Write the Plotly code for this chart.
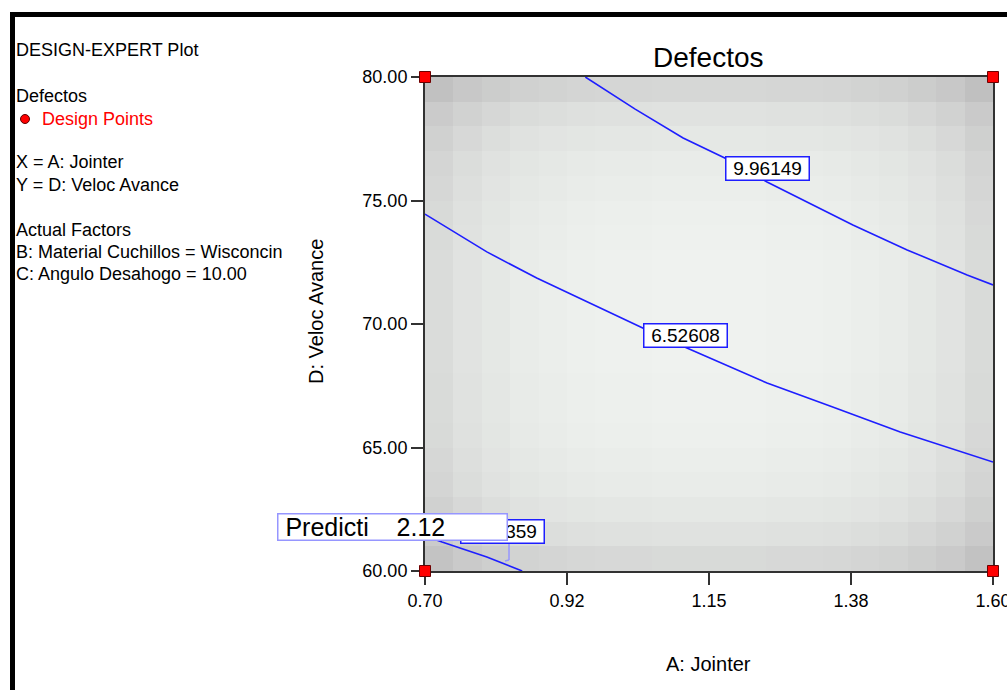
import numpy as np
import plotly.graph_objects as go

# ---------------- data ----------------
x_ticks = [0.70, 0.925, 1.15, 1.375, 1.60]
x_ticklabels = ["0.70", "0.92", "1.15", "1.38", "1.60"]
y_ticks = [60, 65, 70, 75, 80]
y_ticklabels = ["60.00", "65.00", "70.00", "75.00", "80.00"]

design_x = [0.70, 0.70, 1.60, 1.60]
design_y = [60.0, 80.0, 60.0, 80.0]

# contour 9.96149
c1_x = [0.954, 1.033, 1.109, 1.175, 1.242, 1.378, 1.464, 1.559, 1.600]
c1_y = [80.00, 78.70, 77.53, 76.72, 75.75, 74.01, 73.00, 71.98, 71.58]
# contour 6.52608
c2_x = [0.700, 0.798, 0.877, 0.957, 1.045, 1.115, 1.136, 1.242, 1.346, 1.453, 1.600]
c2_y = [74.45, 72.92, 71.86, 70.89, 69.84, 69.03, 68.79, 67.61, 66.64, 65.63, 64.41]
# contour ...359 (lower left)
c3_x = [0.700, 0.727, 0.798, 0.854]
c3_y = [61.42, 61.17, 60.57, 60.00]

contour_labels = ["9.96149", "6.52608", "3.09359"]
label_x = [1.2419, 1.1128, 0.822]
label_y = [76.28, 69.55, 61.60]

# background shading (gray level), rows from y=60 (bottom) to y=80 (top)
shade = [
    [195, 202, 207, 211, 213, 215, 216, 216, 217, 217, 217, 217, 216, 216, 215, 213, 211, 207, 202, 194],
    [203, 210, 215, 219, 221, 223, 224, 224, 225, 225, 225, 225, 224, 224, 223, 221, 219, 215, 210, 202],
    [209, 216, 221, 225, 227, 229, 230, 230, 231, 231, 231, 231, 230, 230, 229, 227, 225, 221, 216, 208],
    [213, 220, 225, 229, 231, 233, 234, 234, 235, 235, 235, 235, 234, 234, 233, 231, 229, 225, 220, 212],
    [215, 222, 227, 231, 233, 235, 236, 236, 237, 237, 237, 237, 236, 236, 235, 233, 231, 227, 222, 214],
    [217, 224, 229, 233, 235, 237, 238, 238, 239, 239, 239, 239, 238, 238, 237, 235, 233, 229, 224, 216],
    [218, 225, 230, 234, 236, 238, 239, 239, 240, 240, 240, 240, 239, 239, 238, 236, 234, 230, 225, 217],
    [218, 225, 230, 234, 236, 238, 239, 239, 240, 240, 240, 240, 239, 239, 238, 236, 234, 230, 225, 217],
    [219, 226, 231, 235, 237, 239, 240, 240, 241, 241, 241, 241, 240, 240, 239, 237, 235, 231, 226, 218],
    [219, 226, 231, 235, 237, 239, 240, 240, 241, 241, 241, 241, 240, 240, 239, 237, 235, 231, 226, 218],
    [219, 226, 231, 235, 237, 239, 240, 240, 241, 241, 241, 241, 240, 240, 239, 237, 235, 231, 226, 218],
    [219, 226, 231, 235, 237, 239, 240, 240, 241, 241, 241, 241, 240, 240, 239, 237, 235, 231, 226, 218],
    [219, 226, 231, 235, 237, 239, 240, 240, 241, 241, 241, 241, 240, 240, 239, 237, 235, 231, 226, 218],
    [218, 225, 230, 234, 236, 238, 239, 239, 240, 240, 240, 240, 239, 239, 238, 236, 234, 230, 225, 217],
    [217, 224, 229, 233, 235, 237, 238, 238, 239, 239, 239, 239, 238, 238, 237, 235, 233, 229, 224, 216],
    [215, 222, 227, 231, 233, 235, 236, 236, 237, 237, 237, 237, 236, 236, 235, 233, 231, 227, 222, 214],
    [213, 220, 225, 229, 231, 233, 234, 234, 235, 235, 235, 235, 234, 234, 233, 231, 229, 225, 220, 212],
    [209, 216, 221, 225, 227, 229, 230, 230, 231, 231, 231, 231, 230, 230, 229, 227, 225, 221, 216, 208],
    [203, 210, 215, 219, 221, 223, 224, 224, 225, 225, 225, 225, 224, 224, 223, 221, 219, 215, 210, 202],
    [193, 200, 205, 209, 211, 213, 214, 214, 215, 215, 215, 215, 214, 214, 213, 211, 209, 205, 200, 192],
]

side_text = [
    ("DESIGN-EXPERT Plot", 50, "black"),
    ("Defectos", 96, "black"),
    ("Design Points", 119, "red"),
    ("X = A: Jointer", 162, "black"),
    ("Y = D: Veloc Avance", 185, "black"),
    ("Actual Factors", 230, "black"),
    ("B: Material Cuchillos = Wisconcin", 252, "black"),
    ("C: Angulo Desahogo = 10.00", 274, "black"),
]

# ---------------- layout helpers ----------------
W, H = 1007, 690
L, R, T, B = 425, 993, 77, 571


def px(xpix):
    return (xpix - L) / (R - L)


def py(ypix):
    return (B - ypix) / (B - T)


FONT = "Liberation Sans, Arial, sans-serif"
BLUE = "rgb(30,30,255)"

fig = go.Figure()

nx = len(shade[0])
ny = len(shade)
fig.add_trace(go.Heatmap(
    z=shade,
    x=np.linspace(0.70, 1.60, nx + 1),
    y=np.linspace(60, 80, ny + 1),
    colorscale=[[0, "rgb(192,192,192)"], [1, "rgb(239,242,239)"]],
    zmin=192, zmax=241, showscale=False, hoverinfo="skip", zsmooth=False,
))

for cx, cy in [(c1_x, c1_y), (c2_x, c2_y), (c3_x, c3_y)]:
    fig.add_trace(go.Scatter(x=cx, y=cy, mode="lines",
                             line=dict(color=BLUE, width=1.6),
                             hoverinfo="skip", showlegend=False))

fig.add_trace(go.Scatter(
    x=design_x, y=design_y, mode="markers",
    marker=dict(symbol="square", size=11, color="red",
                line=dict(color="rgb(110,0,0)", width=1)),
    cliponaxis=False, showlegend=False, hoverinfo="skip"))

annotations = []
# contour labels
for t, lx, ly in zip(contour_labels, label_x, label_y):
    annotations.append(dict(
        x=lx, y=ly, xref="x", yref="y", text=t, showarrow=False,
        font=dict(family=FONT, size=19, color="black"),
        bgcolor="white", bordercolor=BLUE, borderwidth=1.5, borderpad=1,
        width=80, height=20, align="center"))

# prediction box (on top)
annotations.append(dict(
    x=px(277), y=py(527), xref="paper", yref="paper", xanchor="left",
    yanchor="middle", text="\u00a0Predicti\u00a0\u00a0\u00a0\u00a02.12",
    showarrow=False, font=dict(family=FONT, size=25, color="black"),
    bgcolor="white", bordercolor="rgb(150,150,255)", borderwidth=1.5,
    borderpad=0, width=228, height=25, align="left"))

# side texts
for t, yy, col in side_text:
    xx = 40 if t == "Design Points" else 14
    annotations.append(dict(
        x=px(xx), y=py(yy), xref="paper", yref="paper", xanchor="left",
        yanchor="middle", text=t, showarrow=False,
        font=dict(family=FONT, size=18, color=col)))

# title and axis titles
annotations.append(dict(x=px(708), y=py(57), xref="paper", yref="paper",
                        xanchor="center", yanchor="middle",
                        text="Defectos", showarrow=False,
                        font=dict(family=FONT, size=28, color="black")))
annotations.append(dict(x=px(708), y=py(664), xref="paper", yref="paper",
                        xanchor="center", yanchor="middle",
                        text="A: Jointer", showarrow=False,
                        font=dict(family=FONT, size=20, color="black")))
annotations.append(dict(x=px(316), y=py(312), xref="paper", yref="paper",
                        xanchor="center", yanchor="middle",
                        text="D: Veloc Avance", showarrow=False, textangle=-90,
                        font=dict(family=FONT, size=20, color="black")))

shapes = [
    # frame lines
    dict(type="rect", xref="paper", yref="paper", x0=px(10), x1=px(1012),
         y0=py(17), y1=py(12), fillcolor="black", line=dict(width=0)),
    dict(type="rect", xref="paper", yref="paper", x0=px(10), x1=px(15),
         y0=py(12), y1=py(700), fillcolor="black", line=dict(width=0)),
    # legend dot
    dict(type="circle", xref="paper", yref="paper", xsizemode="pixel",
         ysizemode="pixel", xanchor=px(25), yanchor=py(119),
         x0=-4.5, x1=4.5, y0=-4.5, y1=4.5, fillcolor="red",
         line=dict(color="rgb(90,0,0)", width=1)),
    # callout pointer of prediction box
    dict(type="line", xref="paper", yref="paper", x0=px(509), x1=px(509),
         y0=py(541), y1=py(560), line=dict(color="rgb(150,150,255)", width=1.5)),
    dict(type="line", xref="paper", yref="paper", x0=px(509), x1=px(505),
         y0=py(560), y1=py(561), line=dict(color="rgb(150,150,255)", width=1.5)),
]

axis_common = dict(showgrid=False, zeroline=False, showline=True,
                   linecolor="rgb(50,50,50)", linewidth=2, mirror=True,
                   ticks="outside", ticklen=12, tickwidth=2,
                   tickcolor="rgb(50,50,50)", layer="below traces",
                   ticklabeloverflow="allow", automargin=False,
                   tickfont=dict(family=FONT, size=18, color="black"))

fig.update_layout(
    width=W, height=H,
    margin=dict(l=L, r=W - R, t=T, b=H - B, pad=0, autoexpand=False),
    paper_bgcolor="white", plot_bgcolor="white",
    showlegend=False,
    xaxis=dict(range=[0.70, 1.60], tickvals=x_ticks, ticktext=x_ticklabels,
               **axis_common),
    yaxis=dict(range=[60, 80], tickvals=y_ticks, ticktext=y_ticklabels,
               **axis_common),
    annotations=annotations,
    shapes=shapes,
)

fig.write_html("out.html")
